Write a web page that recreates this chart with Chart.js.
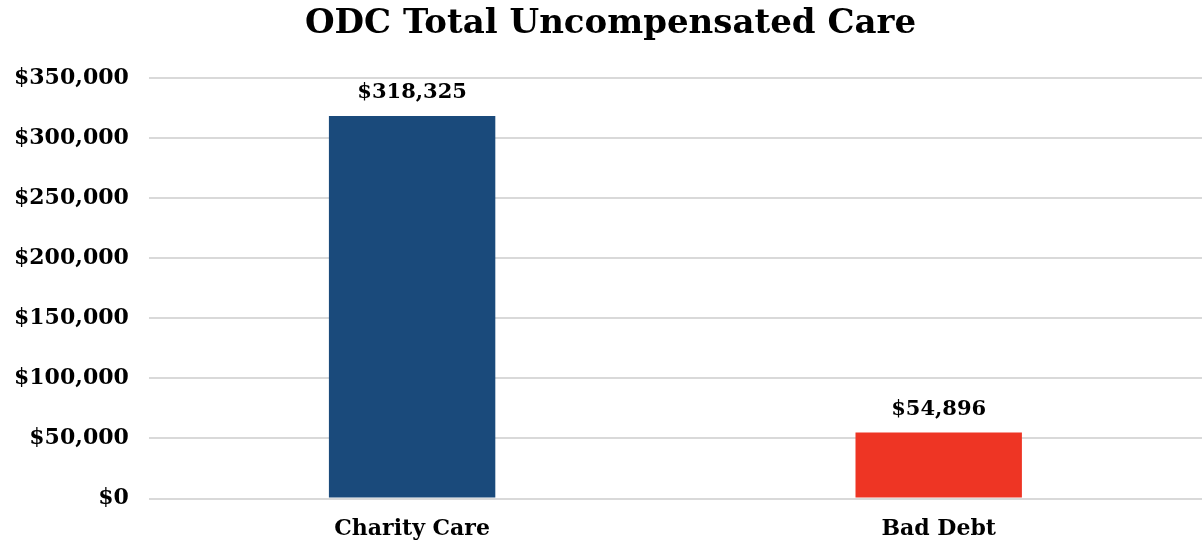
<!DOCTYPE html>
<html>
<head>
<meta charset="utf-8">
<script src="https://cdn.jsdelivr.net/npm/chart.js@4"></script>
<style>
  html, body { margin: 0; padding: 0; background: #fff; }
  #wrap { width: 1202px; height: 543px; }
</style>
</head>
<body>
<div id="wrap"><canvas id="careChart" width="1202" height="543"></canvas></div>
<script>
const categories = ['Charity Care', 'Bad Debt'];
const amounts = [318325, 54896];
const barColors = ['#1A4A7B', '#EE3524'];
const yTicks = [0, 50000, 100000, 150000, 200000, 250000, 300000, 350000];

const FONT = "'DejaVu Serif', Georgia, serif";

const money = v => '$' + v.toLocaleString('en-US');

// writes the amount over each bar
const valueLabels = {
    id: 'valueLabels',
    afterDatasetsDraw(chart) {
        const ctx = chart.ctx;
        const meta = chart.getDatasetMeta(0);
        ctx.save();
        ctx.font = `bold 21px ${FONT}`;
        ctx.fillStyle = '#000';
        ctx.textAlign = 'center';
        ctx.textBaseline = 'middle';
        meta.data.forEach((bar, i) => {
            ctx.fillText(money(amounts[i]), bar.x, bar.y - 23);
        });
        ctx.restore();
    }
};

new Chart(document.getElementById('careChart'), {
    type: 'bar',
    data: {
        labels: categories,
        datasets: [{
            data: amounts,
            backgroundColor: barColors,
            barPercentage: 0.316,
            categoryPercentage: 1
        }]
    },
    options: {
        responsive: false,
        animation: false,
        layout: { padding: { left: 8, right: -11, top: 0, bottom: -8 } },
        plugins: {
            legend: { display: false },
            tooltip: { enabled: false },
            title: {
                display: true,
                text: 'ODC Total Uncompensated Care',
                color: '#000',
                font: { family: FONT, size: 34, weight: 'bold' },
                padding: { top: 4, bottom: 33 }
            }
        },
        scales: {
            x: {
                grid: { display: false },
                border: { display: false },
                ticks: {
                    color: '#000',
                    padding: 9,
                    font: { family: FONT, size: 22, weight: 'bold' }
                }
            },
            y: {
                min: 0,
                max: 350000,
                afterBuildTicks(scale) {
                    scale.ticks = yTicks.map(v => ({ value: v }));
                },
                // keep the plot starting where the labels end, despite the wider left padding
                afterFit(scale) {
                    scale.width -= 14;
                },
                grid: { color: '#D9D9D9', lineWidth: 2, drawTicks: false },
                border: { display: false },
                ticks: {
                    color: '#000',
                    padding: 20,
                    font: { family: FONT, size: 22, weight: 'bold' },
                    callback: v => money(v)
                }
            }
        }
    },
    plugins: [valueLabels]
});
</script>
</body>
</html>
